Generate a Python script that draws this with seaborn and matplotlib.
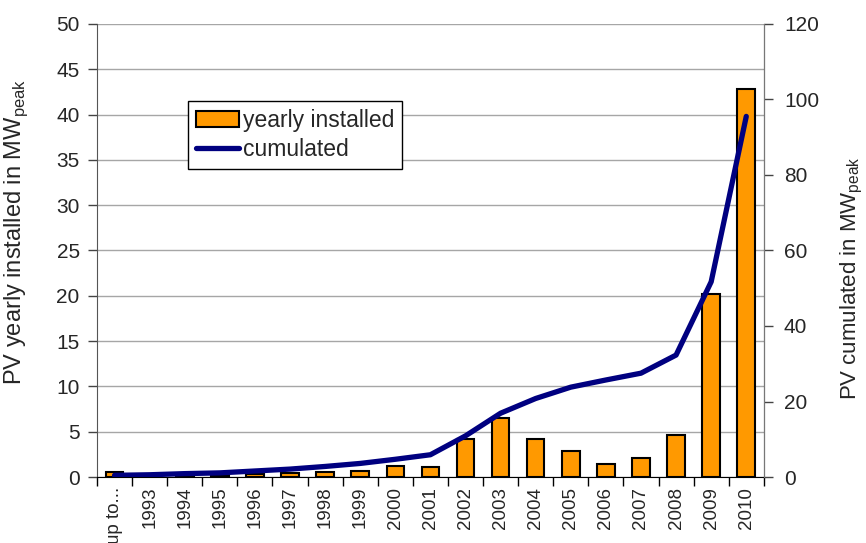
import numpy as np
import pandas as pd
import matplotlib
matplotlib.use('Agg')
import matplotlib.pyplot as plt
from matplotlib.ticker import MultipleLocator, FixedLocator
import seaborn as sns

years = ['up to...', '1993', '1994', '1995', '1996', '1997', '1998', '1999', '2000',
         '2001', '2002', '2003', '2004', '2005', '2006', '2007', '2008', '2009', '2010']
yearly = [0.5, 0.1, 0.1, 0.2, 0.3, 0.47, 0.6, 0.65, 1.2, 1.15,
          4.2, 6.5, 4.2, 2.9, 1.45, 2.05, 4.6, 20.2, 42.8]
cumulated = [0.45, 0.6, 0.9, 1.1, 1.6, 2.1, 2.8, 3.6, 4.7, 5.9,
             10.9, 16.9, 20.8, 23.8, 25.7, 27.5, 32.3, 51.7, 95.5]

df = pd.DataFrame({'year': years, 'yearly': yearly, 'cum': cumulated,
                   'pos': np.arange(len(years))})

sns.set_style('white')
plt.rcParams['font.family'] = ['Liberation Sans', 'DejaVu Sans']
plt.rcParams['mathtext.fontset'] = 'custom'
plt.rcParams['mathtext.rm'] = 'Liberation Sans'

fig = plt.figure(figsize=(8.66, 5.43), dpi=100)
ax = fig.add_axes([0.112, 0.1215, 0.770, 0.8345])

sns.barplot(data=df, x='year', y='yearly', color='#FF9900', edgecolor='black',
            linewidth=1.5, width=0.5, saturation=1, ax=ax, label='yearly installed')
ax.set_ylim(0, 50)
ax.set_xlim(-0.5, len(years) - 0.5)
ax.yaxis.set_major_locator(MultipleLocator(5))
ax.grid(axis='y', color='#a6a6a6', linewidth=1)
ax.set_axisbelow(True)

ax2 = ax.twinx()
sns.lineplot(data=df, x='pos', y='cum', color='#000080', linewidth=3.8,
             ax=ax2, label='cumulated')
ax2.set_ylim(0, 120)
ax2.yaxis.set_major_locator(MultipleLocator(20))

for a in (ax, ax2):
    a.spines['top'].set_visible(False)
ax.spines['left'].set_color('#555555')
ax.spines['bottom'].set_color('black')
ax2.spines['right'].set_color('#777777')
ax2.spines['left'].set_visible(False)
ax2.spines['bottom'].set_visible(False)

ax.tick_params(axis='y', left=True, length=6.5, width=1, color='#444444',
               labelsize=15, pad=6)
ax2.tick_params(axis='y', right=True, length=6.5, width=1, color='#444444',
                labelsize=15, pad=8)
ax.set_xticks(np.arange(len(years)))
ax.set_xticklabels(years, rotation=90, fontsize=13.5)
ax.xaxis.set_minor_locator(FixedLocator(np.arange(len(years) + 1) - 0.5))
ax.tick_params(axis='x', which='major', length=0, pad=7)
ax.tick_params(axis='x', which='minor', bottom=True, length=6.5, width=1, color='black')
ax2.set_xlabel('')
ax.set_xlabel('')

ax.set_ylabel(r'PV yearly installed in MW$_{\mathregular{peak}}$', fontsize=17)
ax.yaxis.set_label_coords(-0.1, 0.54)
ax2.set_ylabel(r'PV cumulated in MW$_{\mathregular{peak}}$', fontsize=16)
ax2.yaxis.set_label_coords(1.113, 0.44)

if ax.get_legend():
    ax.get_legend().remove()
if ax2.get_legend():
    ax2.get_legend().remove()
h1, l1 = ax.get_legend_handles_labels()
h2, l2 = ax2.get_legend_handles_labels()
leg = ax2.legend(h1 + h2, l1 + l2, loc='upper left', bbox_to_anchor=(0.217, 0.814),
                 bbox_transform=fig.transFigure, fontsize=16.5, frameon=True, fancybox=False,
                 edgecolor='black', framealpha=1, handlelength=1.9, handletextpad=0.15,
                 borderpad=0.35, labelspacing=0.25, borderaxespad=0)
leg.get_frame().set_linewidth(1)

fig.savefig('out.png', dpi=100)
